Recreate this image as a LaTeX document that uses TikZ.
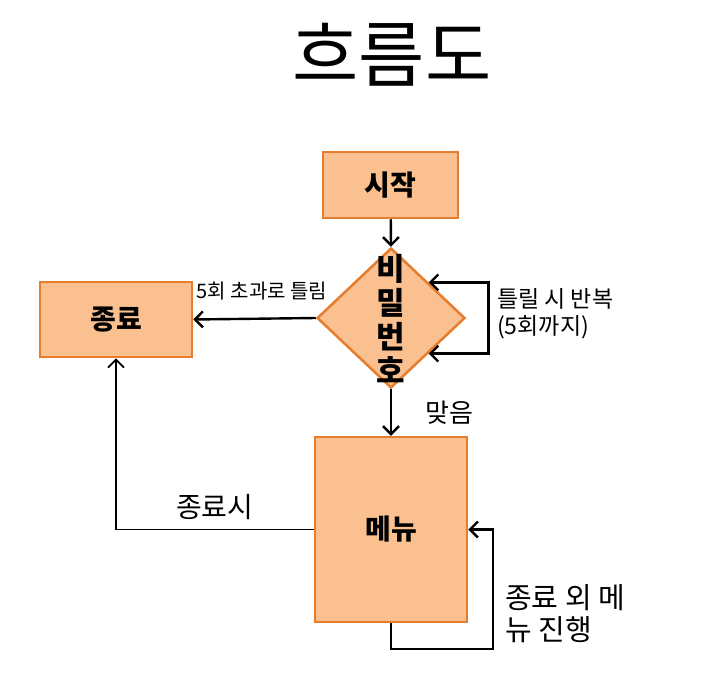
\documentclass[tikz,border=0pt]{standalone}
\usepackage{fontspec}
\setmainfont{Noto Sans CJK KR}
\usetikzlibrary{shapes.geometric, arrows.meta}
\definecolor{orangeclair}{RGB}{250,192,144}
\definecolor{orangefonce}{RGB}{228,125,45}
\tikzset{
  boite/.style={draw=orangefonce, fill=orangeclair, line width=2.5pt, inner sep=0pt,
    font=\bfseries\fontsize{28}{30}\selectfont},
  pointe/.tip={Straight Barb[length=8pt,width=16pt]},
  fleche/.style={line width=2.4pt, -pointe},
  lbl/.style={inner sep=0pt}
}

\begin{document}
\begin{tikzpicture}[x=1pt, y=-1pt]
    \useasboundingbox (0,0) rectangle (709,696);
    % Le titre
    \node[lbl, font=\fontsize{72}{80}\selectfont] (titre) at (392,55) {흐름도};
    % Les boites
    \node[boite, minimum width=135pt, minimum height=66pt] (debut) at (390.5,185) {시작};
    \node[boite, minimum width=152pt, minimum height=75pt] (fin) at (116,319.5) {종료};
    \node[boite, minimum width=152pt, minimum height=185pt] (menu) at (391,529.5) {메뉴};
    % Le losange du mot de passe
    \node[diamond, draw=orangefonce, fill=orangeclair, line width=2.5pt, inner sep=0pt,
      minimum width=148pt, minimum height=140pt] (mdp) at (391,318) {};
    \node[lbl, align=center, font=\bfseries\fontsize{31}{34}\selectfont] (mdptxt) at (391,319) {비\\밀\\번\\호};
    % Les fleches
    \draw[fleche] (debut) -- (mdp.north);
    \draw[fleche] (mdp.west) -- (fin.east)
        node[lbl, pos=0.44, above=17pt, font=\fontsize{20}{22}\selectfont] {5회 초과로 틀림};
    \draw[line width=2.4pt, pointe-pointe]
        (mdp.north east) -- ++(60,0) |- (mdp.south east);
    \node[lbl, anchor=west, align=left, font=\fontsize{23}{27}\selectfont] (repet) at (497,314) {틀릴 시 반복\\(5회까지)};
    \draw[fleche] (mdp.south) -- (menu.north)
        node[lbl, pos=0.5, right=33pt, font=\fontsize{26}{28}\selectfont] {맞음};
    % Retour vers la fin
    \draw[line width=1.8pt, -pointe] (menu.west) -| (fin.south)
        node[lbl, pos=0.25, above=9pt, font=\fontsize{28}{30}\selectfont] {종료시};
    % Boucle du menu
    \draw[fleche] (menu.south) -- ++(0,26) -- ++(102,0) |- (menu.east);
    \node[lbl, anchor=west, align=left, font=\fontsize{29}{32}\selectfont] (suite) at (505,614) {종료 외 메\\뉴 진행};
\end{tikzpicture}
\end{document}
